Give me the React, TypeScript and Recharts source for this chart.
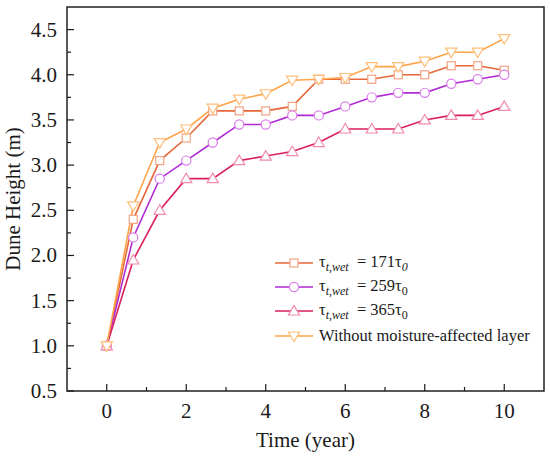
import { LineChart, Line, XAxis, YAxis, ReferenceArea, Legend } from 'recharts'

// time in years, one point every 2/3 year
const TIME = [0, 0.667, 1.333, 2, 2.667, 3.333, 4, 4.667, 5.333, 6, 6.667, 7.333, 8, 8.667, 9.333, 10]
const H_171 = [1.0, 2.4, 3.05, 3.3, 3.6, 3.6, 3.6, 3.65, 3.95, 3.95, 3.95, 4.0, 4.0, 4.1, 4.1, 4.05]
const H_259 = [1.0, 2.2, 2.85, 3.05, 3.25, 3.45, 3.45, 3.55, 3.55, 3.65, 3.75, 3.8, 3.8, 3.9, 3.95, 4.0]
const H_365 = [1.0, 1.95, 2.5, 2.85, 2.85, 3.05, 3.1, 3.15, 3.25, 3.4, 3.4, 3.4, 3.5, 3.55, 3.55, 3.65]
const H_NONE = [1.0, 2.55, 3.25, 3.4, 3.63, 3.73, 3.79, 3.94, 3.95, 3.97, 4.09, 4.09, 4.15, 4.25, 4.25, 4.4]

const X_TICKS = [0, 1, 2, 3, 4, 5, 6, 7, 8, 9, 10]
const Y_TICKS = [0.5, 0.75, 1, 1.25, 1.5, 1.75, 2, 2.25, 2.5, 2.75, 3, 3.25, 3.5, 3.75, 4, 4.25, 4.5]

const FONT = '"Liberation Serif", "Times New Roman", serif'
const INK = '#1a1a1a'
const PLOT_LEFT = 67
const PLOT_BOTTOM = 391

type Shape = 'square' | 'circle' | 'up' | 'down'

const SERIES: { key: string; tau?: string; italic0?: boolean; text?: string; line: string; mark: string; shape: Shape }[] = [
  { key: 'h171', tau: '171', italic0: true, line: '#E5673A', mark: '#F4A382', shape: 'square' },
  { key: 'h259', tau: '259', line: '#B12BD4', mark: '#D97BEB', shape: 'circle' },
  { key: 'h365', tau: '365', line: '#DA1F5E', mark: '#F08AAE', shape: 'up' },
  { key: 'hnone', text: 'Without moisture-affected layer', line: '#FFA348', mark: '#FFBF7A', shape: 'down' },
]

const data = TIME.map((t, i) => ({
  t,
  h171: H_171[i],
  h259: H_259[i],
  h365: H_365[i],
  hnone: H_NONE[i],
}))

function Marker({ cx, cy, shape, color }: { cx: number; cy: number; shape: Shape; color: string }) {
  const common = { fill: '#fff', stroke: color, strokeWidth: 1.2 }
  if (shape === 'square') return <rect x={cx - 4} y={cy - 4} width={8} height={8} {...common} />
  if (shape === 'circle') return <circle cx={cx} cy={cy} r={4.6} {...common} />
  if (shape === 'up')
    return <polygon points={`${cx},${cy - 5.5} ${cx - 5.6},${cy + 4} ${cx + 5.6},${cy + 4}`} {...common} />
  return <polygon points={`${cx},${cy + 5.5} ${cx - 5.6},${cy - 4} ${cx + 5.6},${cy - 4}`} {...common} />
}

function XTick(props: any) {
  const { x, payload } = props
  const v = payload.value
  const major = v % 2 === 0
  return (
    <g>
      <line x1={x} x2={x} y1={PLOT_BOTTOM} y2={PLOT_BOTTOM - (major ? 7 : 4)} stroke={INK} strokeWidth={1.2} />
      {major && (
        <text x={x} y={418} textAnchor="middle" fontFamily={FONT} fontSize={21} fill={INK}>
          {v}
        </text>
      )}
    </g>
  )
}

function YTick(props: any) {
  const { y, payload } = props
  const v = payload.value
  const major = Math.round(v * 4) % 2 === 0
  return (
    <g>
      <line x1={PLOT_LEFT} x2={PLOT_LEFT + (major ? 7 : 4)} y1={y} y2={y} stroke={INK} strokeWidth={1.2} />
      {major && (
        <text x={57} y={y + 7} textAnchor="end" fontFamily={FONT} fontSize={21} fill={INK}>
          {v.toFixed(1)}
        </text>
      )}
    </g>
  )
}

function LegendBox() {
  return (
    <div style={{ fontFamily: FONT, fontSize: 16.5, color: INK }}>
      {SERIES.map(s => (
        <div key={s.key} style={{ display: 'flex', alignItems: 'center', height: 24.2 }}>
          <svg width={40} height={20} style={{ display: 'block' }}>
            <line x1={1} x2={39} y1={10} y2={10} stroke={s.line} strokeWidth={1.6} />
            <Marker cx={20} cy={10} shape={s.shape} color={s.mark} />
          </svg>
          <span style={{ marginLeft: 5, whiteSpace: 'nowrap' }}>
            {s.tau ? (
              <>
                τ<sub style={{ fontStyle: 'italic', fontSize: 12, verticalAlign: -4 }}>t,wet</sub>
                {'\u00a0 = ' + s.tau + 'τ'}
                <sub style={{ fontSize: 12, verticalAlign: -4, fontStyle: s.italic0 ? 'italic' : 'normal' }}>0</sub>
              </>
            ) : (
              s.text
            )}
          </span>
        </div>
      ))}
    </div>
  )
}

export default function App() {
  return (
    <div style={{ position: 'absolute', left: 0, top: 0, width: 550, height: 463, background: '#fff' }}>
      <LineChart width={550} height={463} data={data} margin={{ top: 7, right: 6, left: 0, bottom: 0 }}>
        <XAxis
          type="number"
          dataKey="t"
          domain={[-1, 11]}
          ticks={X_TICKS}
          interval={0}
          tick={XTick}
          tickLine={false}
          axisLine={false}
          height={72}
          label={{
            content: () => (
              <text x={305.5} y={447} textAnchor="middle" fontFamily={FONT} fontSize={21} fill={INK}>
                Time (year)
              </text>
            ),
          }}
        />
        <YAxis
          type="number"
          domain={[0.5, 4.75]}
          ticks={Y_TICKS}
          interval={0}
          tick={YTick}
          tickLine={false}
          axisLine={false}
          width={67}
          label={{
            content: () => (
              <text
                x={20}
                y={199}
                transform="rotate(-90, 20, 199)"
                textAnchor="middle"
                fontFamily={FONT}
                fontSize={21}
                fill={INK}
              >
                Dune Height (m)
              </text>
            ),
          }}
        />
        <ReferenceArea x1={-1} x2={11} y1={0.5} y2={4.75} fill="none" stroke="#222" strokeWidth={1.5} />
        {SERIES.map(s => (
          <Line
            key={s.key}
            type="linear"
            dataKey={s.key}
            stroke={s.line}
            strokeWidth={1.6}
            isAnimationActive={false}
            dot={(p: any) => <Marker key={`${s.key}-${p.index}`} cx={p.cx} cy={p.cy} shape={s.shape} color={s.mark} />}
            activeDot={false}
          />
        ))}
        <Legend
          layout="vertical"
          align="center"
          verticalAlign="middle"
          content={() => <LegendBox />}
          wrapperStyle={{ left: 274, top: 251, width: 270 }}
        />
      </LineChart>
    </div>
  )
}
